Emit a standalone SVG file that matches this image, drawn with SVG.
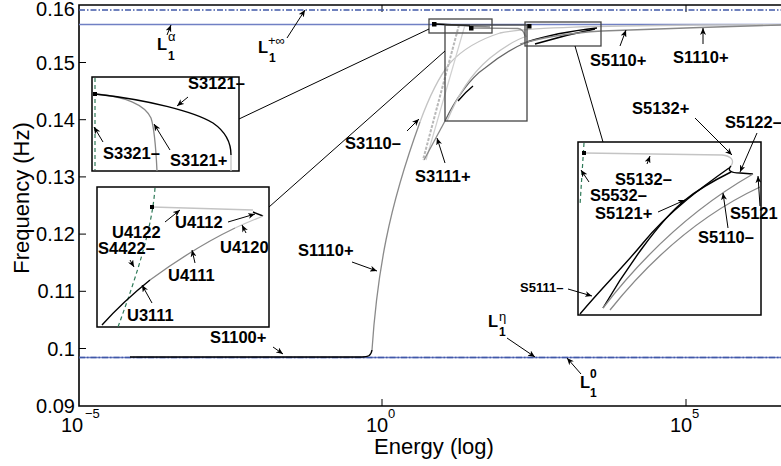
<svg xmlns="http://www.w3.org/2000/svg" width="781" height="466" viewBox="0 0 781 466">
<defs>
<marker id="ah" markerWidth="8" markerHeight="6" refX="7" refY="3" orient="auto" markerUnits="userSpaceOnUse">
<path d="M0,0 L7,3 L0,6 L2,3 z" fill="#000"/>
</marker>
<style>
.tick{font-family:"Liberation Sans",Arial,sans-serif;font-size:20px;fill:#000}
.sup{font-family:"Liberation Sans",Arial,sans-serif;font-size:13px;fill:#000}
.axl{font-family:"Liberation Sans",Arial,sans-serif;font-size:22px;fill:#000}
.lb{font-family:"Liberation Sans",Arial,sans-serif;font-size:16.5px;font-weight:bold;fill:#000}
.lbs{font-family:"Liberation Sans",Arial,sans-serif;font-size:13px;font-weight:bold;fill:#000}
.Lsub{font-family:"Liberation Sans",Arial,sans-serif;font-size:12px;font-weight:bold;fill:#000}
.Lsup{font-family:"Liberation Sans",Arial,sans-serif;font-size:13px;fill:#000}
.ar{stroke:#000;stroke-width:1;fill:none;marker-end:url(#ah)}
.box{fill:none;stroke:#000;stroke-width:1.5}
.sbox{fill:none;stroke:#444;stroke-width:1.3}
.lnk{stroke:#000;stroke-width:1;fill:none}
.blue{stroke:#7080c4;stroke-width:1.6;fill:none}
.bdash{stroke:#4058a8;stroke-width:1.3;fill:none;stroke-dasharray:6,2,1.5,2}
.green{stroke:#2f7a58;stroke-width:1.2;fill:none;stroke-dasharray:4,3}
.blk{stroke:#000;stroke-width:1.4;fill:none}
.gry{stroke:#888;stroke-width:1.3;fill:none}
.lgry{stroke:#c4c4c4;stroke-width:1.3;fill:none}
.mk{fill:#000}
</style>
</defs>
<rect width="781" height="466" fill="#fff"/>

<g id="axes">
<path d="M781,5 L79,5 L79,406 L781,406" fill="none" stroke="#000" stroke-width="1.6"/>
<path d="M79,62.5 h7 M79,119.7 h7 M79,176.9 h7 M79,234.1 h7 M79,291.3 h7 M79,348.5 h7" stroke="#000" stroke-width="1"/>
<path d="M382,406 v-7 M686,406 v-7 M382,5 v7 M686,5 v7" stroke="#000" stroke-width="1"/>
<text class="tick" x="75" y="16" text-anchor="end">0.16</text>
<text class="tick" x="75" y="70" text-anchor="end">0.15</text>
<text class="tick" x="75" y="127" text-anchor="end">0.14</text>
<text class="tick" x="75" y="184" text-anchor="end">0.13</text>
<text class="tick" x="75" y="241" text-anchor="end">0.12</text>
<text class="tick" x="75" y="298" text-anchor="end">0.11</text>
<text class="tick" x="75" y="356" text-anchor="end">0.1</text>
<text class="tick" x="75" y="413" text-anchor="end">0.09</text>
<text class="tick" x="61" y="432">10</text><text class="sup" x="85" y="418">−5</text>
<text class="tick" x="366" y="432">10</text><text class="sup" x="388" y="418">0</text>
<text class="tick" x="670" y="432">10</text><text class="sup" x="692" y="418">5</text>
<text class="axl" x="434" y="454" text-anchor="middle">Energy (log)</text>
<text class="axl" transform="translate(29,198) rotate(-90)" text-anchor="middle">Frequency (Hz)</text>
</g>

<g id="reference-lines">
<line class="bdash" x1="79" y1="10" x2="781" y2="10"/>
<line class="blue" x1="79" y1="24.5" x2="781" y2="24.5"/>
<line class="blue" x1="79" y1="357.5" x2="781" y2="357.5"/>
<line class="bdash" x1="79" y1="357.5" x2="781" y2="357.5"/>
</g>

<g id="curves">
<path class="blk" d="M130,357 L362,357 C368,357 371,356 372,350"/>
<path d="M372,350 C374,320 378,280 386,240 C394,200 408,155 420,122" stroke="#8a8a8a" stroke-width="1.3" fill="none"/>
<path class="lgry" d="M420,122 C428,100 438,78 450,63 C462,50 478,40 500,33 C530,27 600,26 700,25 L781,24.6"/>
<path d="M459,25 L423,160" stroke="#b8b8b8" stroke-width="2" fill="none" stroke-dasharray="3,1.5"/>
<path d="M465,25 L426,160" stroke="#d0d0d0" stroke-width="1.2" fill="none"/>
<path class="gry" d="M424,160 L445,121"/>
<path d="M445,121 C455,100 470,78 485,68 C500,56 515,47 527,42" stroke="#666" stroke-width="1.3" fill="none"/>
<path class="blk" d="M458,101 C463,95 468,90 473,86"/>
<path class="lgry" d="M447,121 C458,95 470,75 490,58 C505,46 515,40 527,36"/>
<path class="gry" d="M434,24 L490,27"/>
<path class="blk" d="M434,24 L470,25.5"/>
<path class="gry" d="M471,28 L518,28.5 C522,29 524,31 525,36"/>
<path class="blk" d="M527,42 C545,36 570,31 597,28"/>
<path class="blk" d="M535,44 C555,38 575,33 595,29" stroke-width="0.9"/>
<path class="gry" d="M520,44 C540,38 570,33 602,31 L700,27.5 L781,25" stroke-width="1"/>
<rect class="mk" x="432" y="22" width="4.5" height="4.5"/>
<rect class="mk" x="469" y="26" width="4.5" height="4.5"/>
<rect class="mk" x="527" y="24" width="4.5" height="4.5"/>
</g>

<g id="zoom-boxes">
<rect class="sbox" x="429" y="19" width="63" height="14"/>
<rect class="sbox" x="445" y="25" width="82" height="96" stroke="#555"/>
<rect class="sbox" x="525" y="22" width="76" height="24"/>
</g>

<g id="connectors">
<line class="lnk" x1="239" y1="119" x2="429" y2="29"/>
<line class="lnk" x1="269" y1="207" x2="445" y2="51"/>
<line class="lnk" x1="575" y1="46" x2="603" y2="142"/>
</g>

<g id="inset-1">
<rect class="box" x="92" y="77" width="147" height="94" fill="#fff"/>
<line class="green" x1="95" y1="78" x2="95" y2="170"/>
<path class="gry" d="M95,94 C125,96 145,105 151,118 C155,130 156,150 157,171"/>
<path class="blk" stroke-width="1.8" d="M95,94 C150,100 195,112 213,123 C226,132 231,142 231,155"/>
<path class="lgry" d="M231,155 L231,171"/>
<rect class="mk" x="93" y="92" width="4" height="4"/>
<text class="lb" x="188" y="89">S3121–</text>
<text class="lb" x="103" y="159">S3321–</text>
<text class="lb" x="170" y="166">S3121+</text>
<path class="ar" d="M188,97 L177,106"/>
<path class="ar" d="M103,142 L94,127"/>
<path class="ar" d="M170,150 L154,124"/>
</g>

<g id="inset-2">
<rect class="box" x="97" y="187" width="172" height="140" fill="#fff"/>
<path class="green" d="M155,188 C152,230 135,280 118,327"/>
<path class="lgry" d="M152,207 L253,210"/>
<path class="blk" d="M253,212 L263,216"/>
<path class="blk" d="M102,325 C120,305 135,292 150,280"/>
<path class="gry" d="M150,280 C180,258 210,240 235,228"/>
<path class="lgry" d="M235,228 C248,222 256,219 263,216"/>
<rect class="mk" x="150" y="205" width="4" height="4"/>
<text class="lb" x="112" y="238">U4122</text>
<text class="lb" x="98" y="254">S4422–</text>
<text class="lb" x="175" y="228">U4112</text>
<text class="lb" x="220" y="253">U4120</text>
<text class="lb" x="168" y="281">U4111</text>
<text class="lb" x="127" y="321">U3111</text>
<path class="ar" d="M165,222 L180,210"/>
<path class="ar" d="M228,222 L255,214"/>
<path class="ar" d="M246,233 L242,225"/>
<path class="ar" d="M195,263 L192,250"/>
<path class="ar" d="M152,303 L142,285"/>
<path class="ar" d="M130,260 L134,267"/>
</g>

<g id="inset-3">
<rect class="box" x="578" y="142" width="183" height="173" fill="#fff"/>
<path class="green" d="M584,143 L580,205"/>
<path class="lgry" d="M584,153 L722,155 C731,156 735,160 731,166"/>
<path class="blk" d="M731,166 C727,170 730,173 740,173 L753,174"/>
<path class="blk" d="M729,168 C705,185 670,210 643,243 C625,265 600,290 580,314"/>
<path class="blk" d="M603,308 C625,270 660,220 685,200 C700,188 715,180 731,172"/>
<path class="gry" d="M603,308 C640,260 690,210 753,174"/>
<path class="gry" d="M610,310 C650,260 700,215 760,187"/>
<rect class="mk" x="582" y="151" width="4" height="4"/>
</g>

<g id="labels">
<text class="lb" x="210" y="343">S1100+</text>
<path class="ar" d="M273,347 L283,354"/>
<text class="lb" x="298" y="256">S1110+</text>
<path class="ar" d="M352,262 L377,271"/>
<text class="lb" x="345" y="149">S3110–</text>
<path class="ar" d="M407,131 L419,119"/>
<text class="lb" x="415" y="182">S3111+</text>
<path class="ar" d="M445,163 L437,138"/>
<text class="lb" x="590" y="66">S5110+</text>
<path class="ar" d="M620,46 L626,30"/>
<text class="lb" x="673" y="63">S1110+</text>
<path class="ar" d="M703,44 L703,28"/>
<text class="lb" x="632" y="114">S5132+</text>
<path class="ar" d="M695,118 L732,155"/>
<text class="lb" x="725" y="128">S5122–</text>
<path class="ar" d="M757,133 L740,172"/>
<text class="lb" x="615" y="185">S5132–</text>
<path class="ar" d="M647,164 L650,156"/>
<text class="lb" x="590" y="201">S5532–</text>
<path class="ar" d="M589,182 L581,170"/>
<text class="lb" x="595" y="219">S5121+</text>
<path class="ar" d="M658,212 L685,200"/>
<text class="lb" x="730" y="219">S5121</text>
<path class="ar" d="M760,206 L758,176"/>
<text class="lb" x="698" y="243">S5110–</text>
<path class="ar" d="M728,228 L723,193"/>
<text class="lbs" x="520" y="292">S5111–</text>
<path class="ar" d="M568,289 L592,296"/>
</g>

<g id="L-labels">
<text class="lb" x="157" y="50">L</text><text class="Lsub" x="168" y="60">1</text><text class="Lsup" x="168" y="41">α</text>
<path class="ar" d="M167,35 L171,25"/>
<text class="lb" x="258" y="53">L</text><text class="Lsub" x="269" y="62">1</text><text class="Lsup" x="268" y="45">+∞</text>
<path class="ar" d="M287,38 L305,10"/>
<text class="lb" x="488" y="327">L</text><text class="Lsub" x="499" y="336">1</text><text class="Lsup" x="499" y="321">η</text>
<path class="ar" d="M507,338 L535,357"/>
<text class="lb" x="580" y="388">L</text><text class="Lsub" x="590" y="397">1</text><text class="Lsub" x="590" y="378">0</text>
<path class="ar" d="M581,374 L567,358"/>
</g>
</svg>
